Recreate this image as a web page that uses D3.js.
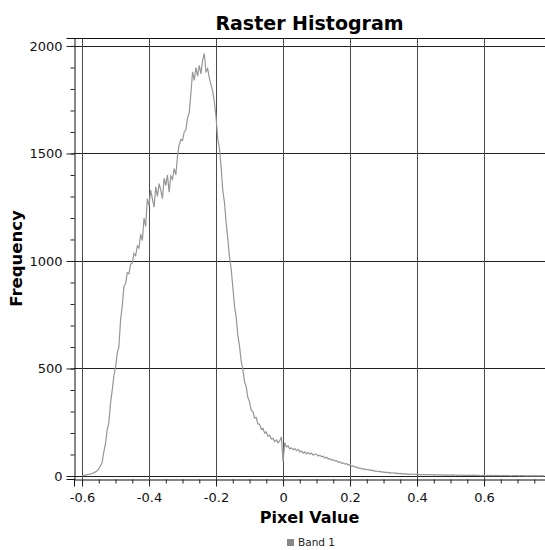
<!DOCTYPE html>
<html>
<head>
<meta charset="utf-8">
<script src="https://cdn.jsdelivr.net/npm/d3@7"></script>
<style>
  html, body { margin: 0; padding: 0; background: #fff; }
  svg { display: block; font-family: "DejaVu Sans", Verdana, sans-serif; }
</style>
</head>
<body>
<svg id="chart" width="545" height="550"></svg>
<script>
// ---- data ----
const title = "Raster Histogram";
const xLabel = "Pixel Value";
const yLabel = "Frequency";
const seriesName = "Band 1";
const binStart = -0.6;
const binWidth = 0.005;
const counts = [
  1,3,4,6,7,10,11,15,19,24,
  33,48,62,112,150,215,248,338,398,465,
  505,570,600,725,790,880,895,945,940,985,
  990,1035,1025,1070,1060,1125,1095,1200,1160,1290,
  1255,1330,1290,1250,1345,1300,1360,1330,1290,1385,
  1350,1400,1320,1395,1380,1430,1400,1490,1540,1565,
  1560,1600,1610,1665,1690,1780,1880,1840,1900,1860,
  1910,1870,1935,1965,1880,1895,1850,1820,1790,1740,
  1670,1570,1525,1440,1330,1275,1180,1105,1020,965,
  880,790,740,655,605,535,495,440,415,365,
  345,305,300,270,272,242,240,218,222,200,
  205,185,190,172,175,160,168,155,163,182,
  66,155,135,140,126,131,122,128,118,124,
  112,116,106,112,103,110,101,107,97,102,
  101,93,97,89,92,84,87,79,81,74,
  76,69,71,64,66,59,61,55,57,51,
  53,46,47,41,42,36,38,32,34,30,
  31,27,29,25,26,22,23,20,21,18,
  19,16,18,15,16,14,15,12,13,11,
  12,10,11,9,10,8,9,8,9,7,
  8,6,7,6,7,5,6,6,7,5,
  6,5,5,4,6,4,5,4,5,4,
  4,5,4,4,3,4,4,3,4,3,
  3,4,3,3,4,3,3,3,2,3,
  3,2,3,2,3,2,2,3,2,2,
  2,2,3,2,2,2,1,2,2,2,
  2,1,2,2,1,2,1,2,1,2,
  1,2,1,1,2,1,1
];
const xTicks = [-0.6, -0.4, -0.2, 0, 0.2, 0.4, 0.6];
const xMinorTicks = [-0.6,-0.55,-0.5,-0.45,-0.4,-0.35,-0.3,-0.25,-0.2,-0.15,-0.1,-0.05,0,0.05,0.1,0.15,0.2,0.25,0.3,0.35,0.4,0.45,0.5,0.55,0.6,0.65,0.7,0.75];
const yTicks = [0, 500, 1000, 1500, 2000];
const yMinorTicks = [0,100,200,300,400,500,600,700,800,900,1000,1100,1200,1300,1400,1500,1600,1700,1800,1900,2000];
const xDomain = [-0.624, 0.782];
const yDomain = [-14, 2037];

// ---- layout ----
const svg = d3.select("#chart");
const mLeft = 74, mRight = 545, mTop = 38, mBottom = 479;

const x = d3.scaleLinear().domain(xDomain).range([mLeft, mRight]);
const y = d3.scaleLinear().domain(yDomain).range([mBottom, mTop]);

const data = counts.map((c, i) => ({ x: binStart + i * binWidth, y: c }));

// grid lines
svg.append("g").selectAll("line").data(yTicks).join("line")
  .attr("x1", mLeft).attr("x2", mRight)
  .attr("y1", d => Math.round(y(d)) + 0.5).attr("y2", d => Math.round(y(d)) + 0.5)
  .attr("stroke", "#222").attr("stroke-width", 1);
svg.append("g").selectAll("line").data(xTicks).join("line")
  .attr("x1", d => Math.round(x(d)) + 0.5).attr("x2", d => Math.round(x(d)) + 0.5)
  .attr("y1", mTop).attr("y2", mBottom)
  .attr("stroke", "#4a4a4a").attr("stroke-width", 1);

// frame top
svg.append("line").attr("x1", mLeft).attr("x2", mRight).attr("y1", mTop + 0.5).attr("y2", mTop + 0.5)
  .attr("stroke", "#111");

// histogram line
svg.append("path").datum(data)
  .attr("fill", "none").attr("stroke", "#969696").attr("stroke-width", 1.2)
  .attr("d", d3.line().x(d => x(d.x)).y(d => y(d.y)));

// y axis
const yMinorG = svg.append("g").attr("transform", `translate(${mLeft + 0.5},0)`)
  .call(d3.axisLeft(y).tickValues(yMinorTicks).tickSize(4).tickFormat(""));
yMinorG.select(".domain").remove();
const yMajor = svg.append("g").attr("transform", `translate(${mLeft + 0.5},0)`)
  .call(d3.axisLeft(y).tickValues(yTicks).tickSize(8).tickPadding(4).tickFormat(d3.format("d")));
yMajor.select(".domain").attr("stroke", "#111");
yMajor.selectAll("text").attr("font-size", 13).attr("fill", "#111")
  .attr("font-family", "DejaVu Sans, sans-serif");

// x axis
const xMinorG = svg.append("g").attr("transform", `translate(0,${mBottom + 0.5})`)
  .call(d3.axisBottom(x).tickValues(xMinorTicks).tickSize(4).tickFormat(""));
xMinorG.select(".domain").remove();
const xMajor = svg.append("g").attr("transform", `translate(0,${mBottom + 0.5})`)
  .call(d3.axisBottom(x).tickValues(xTicks).tickSize(7).tickPadding(6)
    .tickFormat(d => d === 0 ? "0" : d3.format(".1f")(d).replace("−", "-")));
xMajor.select(".domain").attr("stroke", "#111");
xMajor.selectAll("text").attr("font-size", 13).attr("fill", "#111")
  .attr("font-family", "DejaVu Sans, sans-serif");
svg.selectAll(".tick line").attr("stroke", "#222");

// title & labels
svg.append("text").attr("x", (mLeft + mRight) / 2).attr("y", 30)
  .attr("text-anchor", "middle").attr("font-size", 19).attr("font-weight", "bold")
  .attr("fill", "#000").text(title);
svg.append("text").attr("x", (mLeft + mRight) / 2).attr("y", 523)
  .attr("text-anchor", "middle").attr("font-size", 16).attr("font-weight", "bold")
  .attr("fill", "#000").text(xLabel);
svg.append("text").attr("transform", `translate(22,${(mTop + mBottom) / 2}) rotate(-90)`)
  .attr("text-anchor", "middle").attr("font-size", 16.5).attr("font-weight", "bold")
  .attr("fill", "#000").text(yLabel);

// legend
const lg = svg.append("g").attr("transform", "translate(287,539)");
lg.append("rect").attr("x", 0).attr("y", 0).attr("width", 7).attr("height", 7).attr("fill", "#888");
lg.append("text").attr("x", 11).attr("y", 7).attr("font-size", 10.5).attr("fill", "#222").text(seriesName);
</script>
</body>
</html>
